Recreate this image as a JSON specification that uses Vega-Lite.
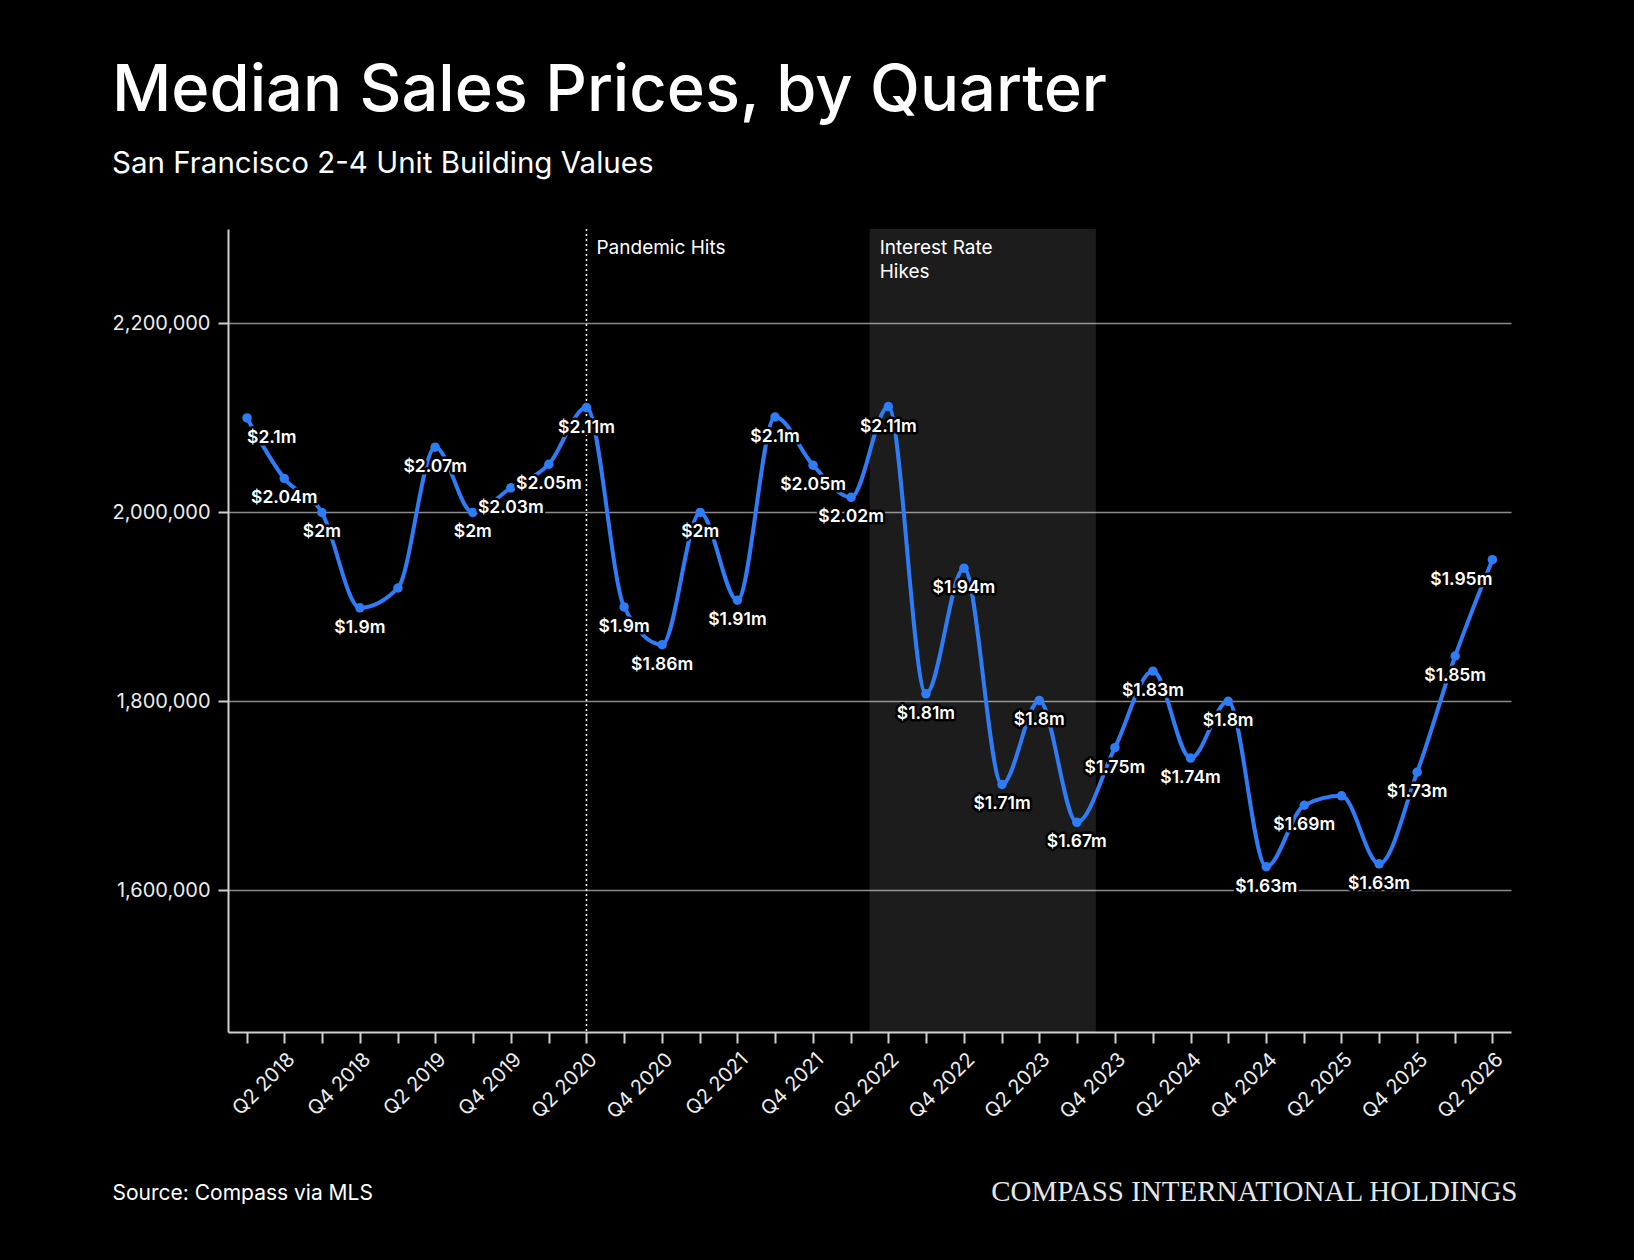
{
  "$schema": "https://vega.github.io/schema/vega-lite/v6.json",
  "background": "#000000",
  "autosize": {"type": "none"},
  "padding": {"left": 228, "top": 229, "right": 123, "bottom": 228},
  "width": 1283,
  "height": 803,
  "title": {
    "text": "Median Sales Prices, by Quarter",
    "subtitle": "San Francisco 2-4 Unit Building Values",
    "anchor": "start",
    "frame": "group",
    "dx": -116,
    "offset": 49,
    "font": "Inter",
    "fontSize": 65,
    "fontWeight": 500,
    "color": "#ffffff",
    "subtitleFont": "Inter",
    "subtitleFontSize": 29.5,
    "subtitleColor": "#ffffff",
    "subtitlePadding": 25
  },
  "datasets": {
    "prices": [
      {"quarter": "2018-01-01", "price": 2100000, "label": "$2.1m"},
      {"quarter": "2018-04-01", "price": 2036000, "label": "$2.04m"},
      {"quarter": "2018-07-01", "price": 2000000, "label": "$2m"},
      {"quarter": "2018-10-01", "price": 1899000, "label": "$1.9m"},
      {"quarter": "2019-01-01", "price": 1920000, "label": ""},
      {"quarter": "2019-04-01", "price": 2069000, "label": "$2.07m"},
      {"quarter": "2019-07-01", "price": 2000000, "label": "$2m"},
      {"quarter": "2019-10-01", "price": 2026000, "label": "$2.03m"},
      {"quarter": "2020-01-01", "price": 2051000, "label": "$2.05m"},
      {"quarter": "2020-04-01", "price": 2111000, "label": "$2.11m"},
      {"quarter": "2020-07-01", "price": 1900000, "label": "$1.9m"},
      {"quarter": "2020-10-01", "price": 1860000, "label": "$1.86m"},
      {"quarter": "2021-01-01", "price": 2000000, "label": "$2m"},
      {"quarter": "2021-04-01", "price": 1907000, "label": "$1.91m"},
      {"quarter": "2021-07-01", "price": 2101000, "label": "$2.1m"},
      {"quarter": "2021-10-01", "price": 2050000, "label": "$2.05m"},
      {"quarter": "2022-01-01", "price": 2016000, "label": "$2.02m"},
      {"quarter": "2022-04-01", "price": 2112000, "label": "$2.11m"},
      {"quarter": "2022-07-01", "price": 1808000, "label": "$1.81m"},
      {"quarter": "2022-10-01", "price": 1941000, "label": "$1.94m"},
      {"quarter": "2023-01-01", "price": 1712000, "label": "$1.71m"},
      {"quarter": "2023-04-01", "price": 1801000, "label": "$1.8m"},
      {"quarter": "2023-07-01", "price": 1672000, "label": "$1.67m"},
      {"quarter": "2023-10-01", "price": 1751000, "label": "$1.75m"},
      {"quarter": "2024-01-01", "price": 1832000, "label": "$1.83m"},
      {"quarter": "2024-04-01", "price": 1740000, "label": "$1.74m"},
      {"quarter": "2024-07-01", "price": 1800000, "label": "$1.8m"},
      {"quarter": "2024-10-01", "price": 1625000, "label": "$1.63m"},
      {"quarter": "2025-01-01", "price": 1690000, "label": "$1.69m"},
      {"quarter": "2025-04-01", "price": 1700000, "label": ""},
      {"quarter": "2025-07-01", "price": 1628000, "label": "$1.63m"},
      {"quarter": "2025-10-01", "price": 1725000, "label": "$1.73m"},
      {"quarter": "2026-01-01", "price": 1848000, "label": "$1.85m"},
      {"quarter": "2026-04-01", "price": 1950000, "label": "$1.95m"}
    ],
    "marker": [
      {"date": "2020-04-01", "label": "Pandemic Hits"}
    ],
    "period": [
      {"start": "2022-02-15", "end": "2023-08-16", "label": "Interest Rate\nHikes"}
    ]
  },
  "layer": [
    {
      "data": {"name": "period"},
      "mark": {"type": "rect", "fill": "#ffffff", "opacity": 0.11},
      "encoding": {
        "x": {"field": "start", "type": "temporal", "scale": {"type": "utc"}, "title": "COMPASS INTERNATIONAL HOLDINGS"},
        "x2": {"field": "end"}
      }
    },
    {
      "data": {"name": "marker"},
      "mark": {"type": "rule", "color": "#ffffff", "strokeWidth": 1.5, "strokeDash": [2, 3]},
      "encoding": {
        "x": {"field": "date", "type": "temporal", "scale": {"type": "utc"}, "title": "COMPASS INTERNATIONAL HOLDINGS"}
      }
    },
    {
      "data": {"name": "marker"},
      "mark": {"type": "text", "align": "left", "baseline": "top", "dx": 10, "dy": 10, "font": "Inter", "fontSize": 19, "color": "#ffffff"},
      "encoding": {
        "x": {"field": "date", "type": "temporal", "scale": {"type": "utc"}, "title": "COMPASS INTERNATIONAL HOLDINGS"},
        "y": {"datum": 2300000, "type": "quantitative", "title": "Source: Compass via MLS"},
        "text": {"field": "label"}
      }
    },
    {
      "data": {"name": "period"},
      "mark": {"type": "text", "align": "left", "baseline": "top", "dx": 10, "dy": 10, "font": "Inter", "fontSize": 19, "lineHeight": 24, "lineBreak": "\n", "color": "#ffffff"},
      "encoding": {
        "x": {"field": "start", "type": "temporal", "scale": {"type": "utc"}, "title": "COMPASS INTERNATIONAL HOLDINGS"},
        "y": {"datum": 2300000, "type": "quantitative", "title": "Source: Compass via MLS"},
        "text": {"field": "label"}
      }
    },
    {
      "data": {"name": "prices"},
      "layer": [
        {
          "mark": {"type": "line", "interpolate": "monotone", "color": "#2e7cf6", "strokeWidth": 4}
        },
        {
          "mark": {"type": "circle", "color": "#2e7cf6", "opacity": 1, "size": 90}
        },
        {
          "mark": {
            "type": "text", "baseline": "middle", "dy": 20, "font": "Inter", "fontSize": 17.5, "fontWeight": 600,
            "align": {"expr": "utcyear(datum.quarter) == 2018 && utcmonth(datum.quarter) == 0 ? 'left' : (utcyear(datum.quarter) == 2026 && utcmonth(datum.quarter) == 3 ? 'right' : 'center')"},
            "fill": "#000000", "stroke": "#000000", "strokeWidth": 5, "strokeJoin": "round"
          },
          "encoding": {"text": {"field": "label"}}
        },
        {
          "mark": {
            "type": "text", "baseline": "middle", "dy": 20, "font": "Inter", "fontSize": 17.5, "fontWeight": 600,
            "align": {"expr": "utcyear(datum.quarter) == 2018 && utcmonth(datum.quarter) == 0 ? 'left' : (utcyear(datum.quarter) == 2026 && utcmonth(datum.quarter) == 3 ? 'right' : 'center')"},
            "color": "#ffffff"
          },
          "encoding": {"text": {"field": "label"}}
        }
      ],
      "encoding": {
        "x": {
          "field": "quarter",
          "type": "temporal",
          "title": "COMPASS INTERNATIONAL HOLDINGS",
          "scale": {
            "type": "utc",
            "nice": false,
            "domain": [
              {"year": 2017, "month": 11, "date": 16, "utc": true},
              {"year": 2026, "month": 5, "date": 16, "utc": true}
            ]
          },
          "axis": {
            "tickCount": {"interval": "month", "step": 3},
            "labelExpr": "(utcmonth(datum.value) == 3 || utcmonth(datum.value) == 9) ? utcFormat(datum.value, 'Q%q %Y') : ''",
            "labelAngle": -45,
            "labelAlign": "right",
            "labelBaseline": "top",
            "labelOverlap": false,
            "labelBound": false,
            "labelFlush": false,
            "labelPadding": 6,
            "tickSize": 11,
            "grid": false,
            "titleX": 1289,
            "titleY": 168,
            "titleAlign": "right",
            "titleAnchor": null,
            "titleBaseline": "alphabetic",
            "titleFont": "Liberation Serif",
            "titleFontSize": 29,
            "titleFontWeight": "normal",
            "titleColor": "#e6e6e6"
          }
        },
        "y": {
          "field": "price",
          "type": "quantitative",
          "title": "Source: Compass via MLS",
          "scale": {"domain": [1450000, 2300000], "nice": false, "zero": false},
          "axis": {
            "values": [1600000, 1800000, 2000000, 2200000],
            "format": ",d",
            "grid": true,
            "labelPadding": 8,
            "tickSize": 10,
            "titleAngle": 0,
            "titleX": -116,
            "titleY": 970,
            "titleAlign": "left",
            "titleAnchor": null,
            "titleBaseline": "alphabetic",
            "titleFont": "Inter",
            "titleFontSize": 21,
            "titleFontWeight": "normal",
            "titleColor": "#ffffff"
          }
        }
      }
    }
  ],
  "config": {
    "view": {"stroke": null},
    "axis": {
      "domainColor": "#cfcfcf",
      "domainWidth": 2,
      "tickColor": "#cfcfcf",
      "tickWidth": 2,
      "gridColor": "#8a8a8a",
      "gridWidth": 1.5,
      "labelFont": "Inter",
      "labelFontSize": 20,
      "labelColor": "#ececec"
    }
  }
}
